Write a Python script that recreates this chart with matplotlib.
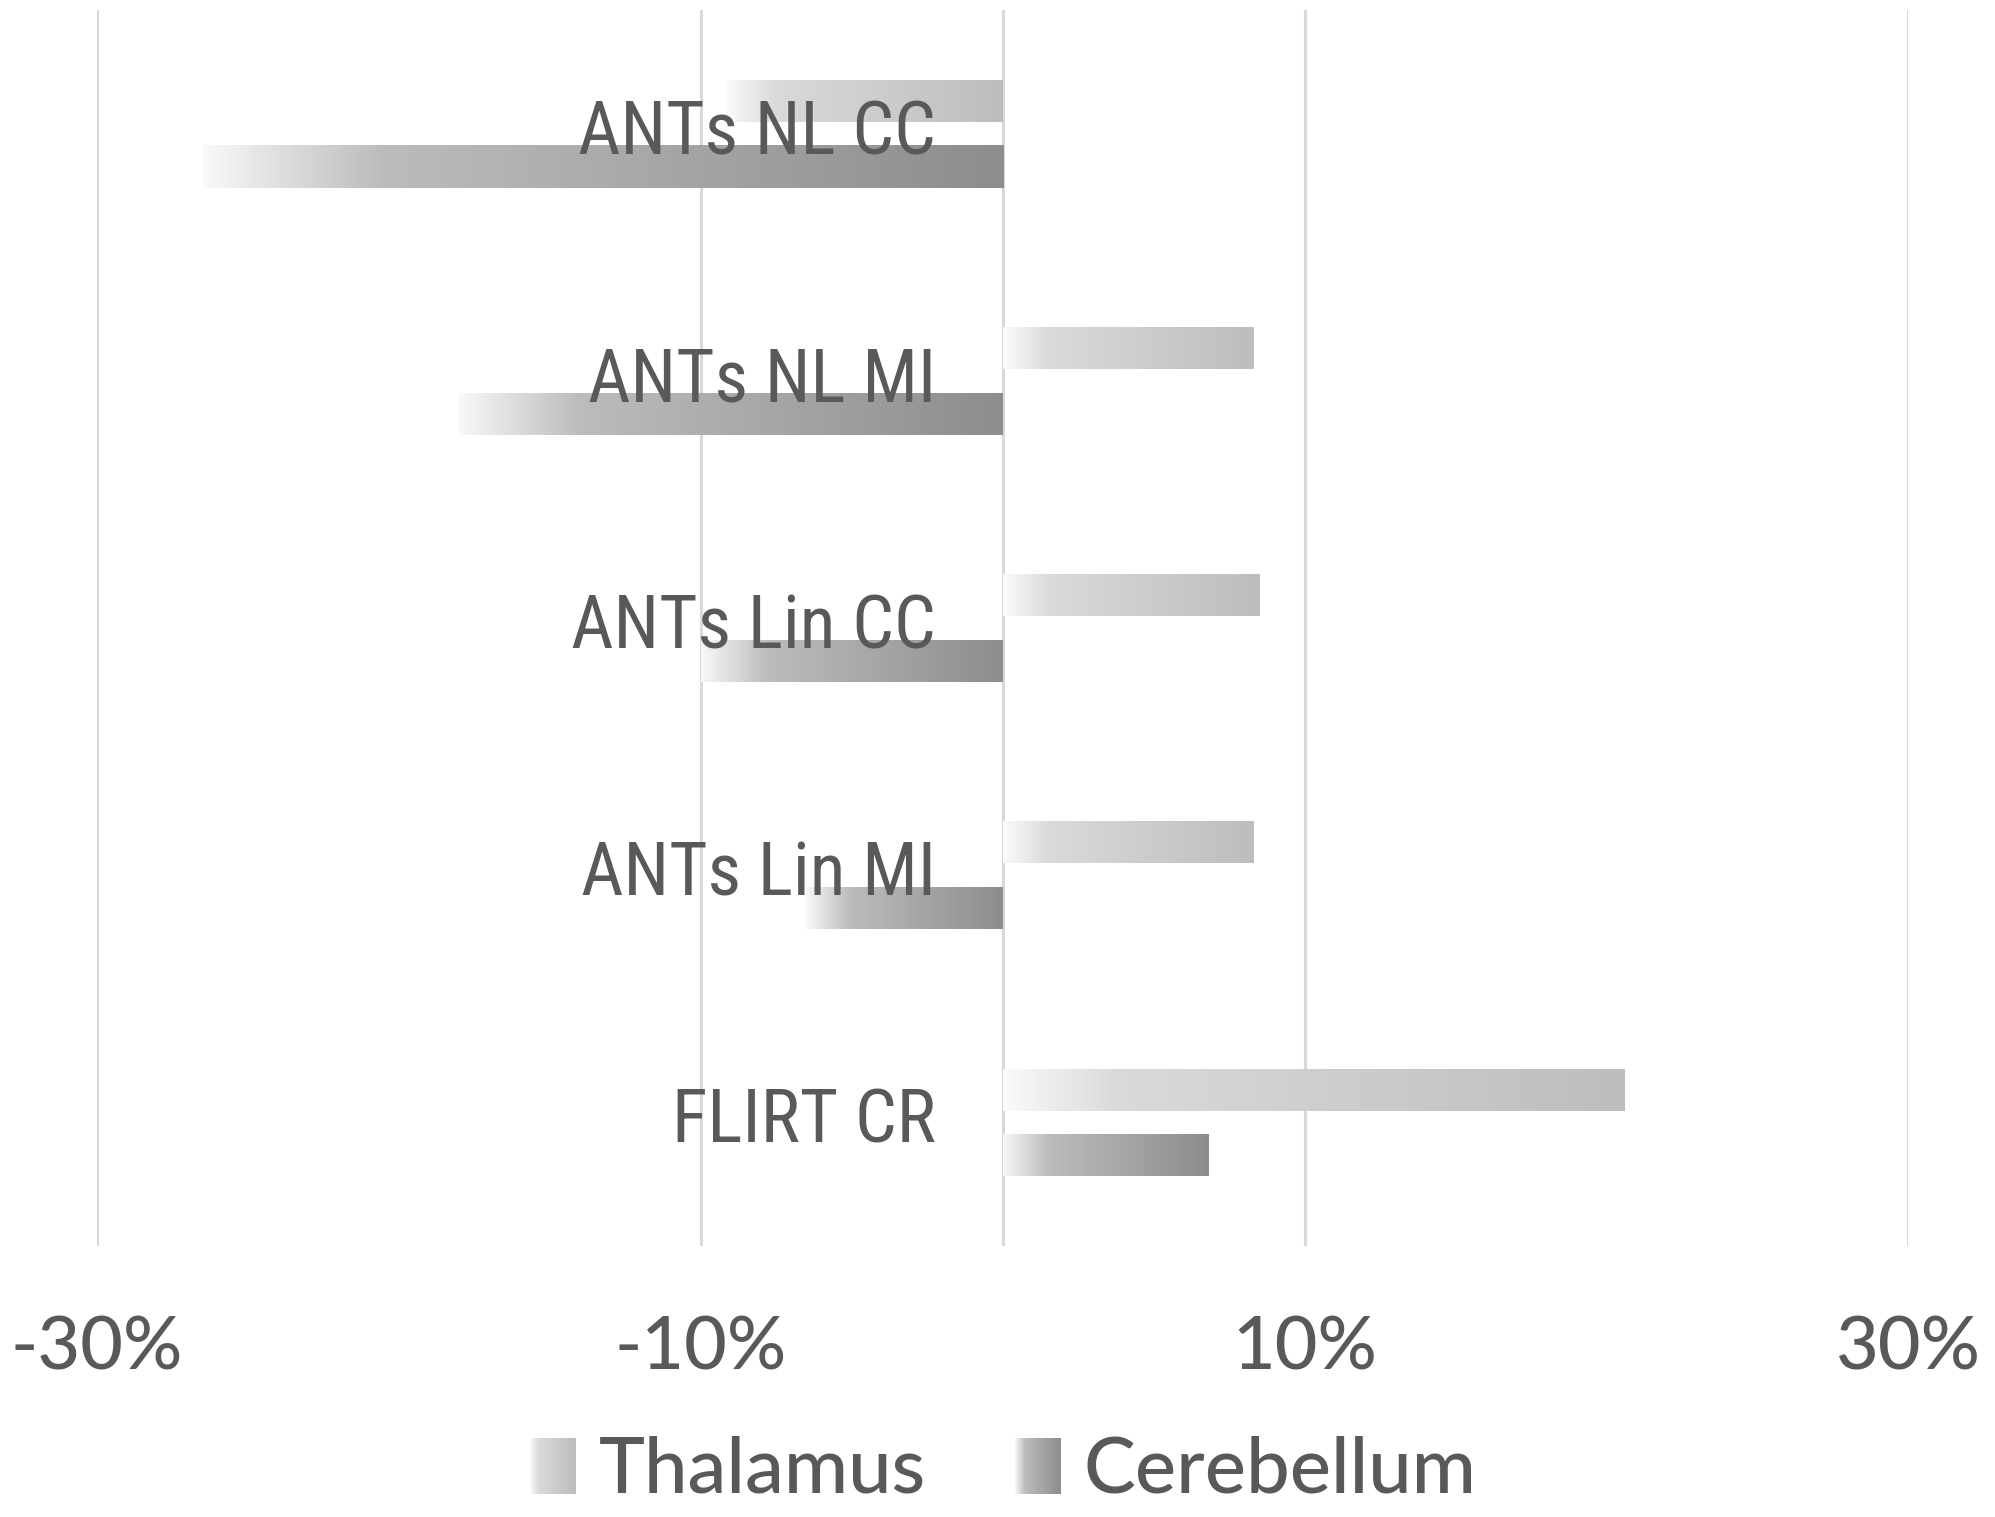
import matplotlib
matplotlib.use("Agg")
import matplotlib.pyplot as plt
import numpy as np
from matplotlib.colors import LinearSegmentedColormap
from matplotlib.legend_handler import HandlerBase
from matplotlib.image import BboxImage
from matplotlib.patches import Rectangle
from matplotlib.transforms import Bbox, TransformedBbox

plt.rcParams['font.family'] = ['Lato', 'DejaVu Sans']
LABEL_FONT = ['Roboto Condensed', 'Lato', 'DejaVu Sans']

categories = ['ANTs NL CC', 'ANTs NL MI', 'ANTs Lin CC', 'ANTs Lin MI', 'FLIRT CR']
thalamus = [-9.2, 8.3, 8.5, 8.3, 20.6]
cerebellum = [-26.5, -18.0, -10.0, -6.5, 6.8]
xticks = [-30, -10, 10, 30]
xtick_labels = ['-30%', '-10%', '10%', '30%']

TEXT = '#595959'
GRID = '#d9d9d9'
FS = 53

thal_cmap = LinearSegmentedColormap.from_list(
    'thal', [(0, '#fbfbfb'), (0.18, '#dadada'), (1, '#bdbdbd')])
cereb_cmap = LinearSegmentedColormap.from_list(
    'cereb', [(0, '#f8f8f8'), (0.22, '#bcbcbc'), (1, '#8d8d8d')])

grad = np.linspace(0, 1, 256).reshape(1, -1)


def gradient_bars(ax, y, values, height, cmap):
    bars = ax.barh(y, values, height=height, color='none', edgecolor='none', zorder=2)
    for bar in bars:
        x0 = min(bar.get_x(), bar.get_x() + bar.get_width())
        x1 = max(bar.get_x(), bar.get_x() + bar.get_width())
        y0 = bar.get_y()
        y1 = y0 + bar.get_height()
        im = ax.imshow(grad, cmap=cmap, extent=[x0, x1, y1, y0], aspect='auto',
                       interpolation='bilinear', zorder=2)
        im.set_clip_path(bar)
    return bars


class GradientHandler(HandlerBase):
    def __init__(self, cmap):
        super().__init__()
        self.cmap = cmap

    def create_artists(self, legend, orig_handle, xdescent, ydescent,
                       width, height, fontsize, trans):
        bb = Bbox.from_bounds(-xdescent, -ydescent, width, height)
        img = BboxImage(TransformedBbox(bb, trans), cmap=self.cmap,
                        interpolation='bilinear')
        img.set_data(grad)
        img.set_clim(0, 1)
        return [img]


fig = plt.figure(figsize=(19.95, 15.17), dpi=100)
ax = fig.add_axes([0.0486, 0.1786, 0.908, 0.8148])

y = np.arange(len(categories))
bar_h = 0.17
off = 0.133

gradient_bars(ax, y - off, thalamus, bar_h, thal_cmap)
gradient_bars(ax, y + off, cerebellum, bar_h, cereb_cmap)

ax.set_xlim(-30, 30)
ax.set_ylim(len(categories) - 0.5, -0.5)
ax.set_xticks(xticks)
ax.set_xticklabels(xtick_labels, fontsize=FS, color=TEXT, fontweight='medium')
ax.set_yticks([])
ax.tick_params(axis='x', length=0, pad=50)
ax.grid(axis='x', color=GRID, linewidth=2.2, zorder=0)
ax.set_axisbelow(True)
ax.axvline(0, color=GRID, linewidth=2.2, zorder=1)
for s in ax.spines.values():
    s.set_visible(False)

for yi, name in zip(y, categories):
    ax.annotate(name, xy=(0, yi), xytext=(-48, 0), textcoords='offset points',
                ha='right', va='center', fontsize=FS, color=TEXT, zorder=5,
                family=LABEL_FONT)

h1 = Rectangle((0, 0), 1, 1)
h2 = Rectangle((0, 0), 1, 1)
leg = fig.legend([h1, h2], ['Thalamus', 'Cerebellum'], loc='center',
                 bbox_to_anchor=(0.503, 0.03), ncol=2, frameon=False,
                 prop={'size': 56, 'weight': 'medium'}, labelcolor=TEXT,
                 handlelength=0.58, handleheight=0.72,
                 handletextpad=0.3, columnspacing=1.15,
                 handler_map={h1: GradientHandler(thal_cmap), h2: GradientHandler(cereb_cmap)})

fig.savefig('out.png', dpi=100, facecolor='white')
